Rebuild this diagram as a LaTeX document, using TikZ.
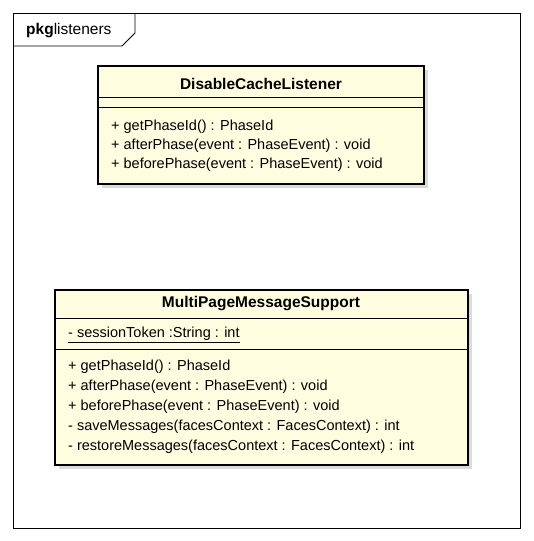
\documentclass[tikz,border=0pt]{standalone}
\usepackage{fontspec}
\setmainfont{Liberation Sans}
\begin{document}
\begin{tikzpicture}[x=1pt,y=-1pt,
  classbox/.style={draw=black,line width=2.2pt,fill=yellow!12,inner sep=0pt,anchor=north west},
  shadowbox/.style={fill=black!14,draw=none,inner sep=0pt,anchor=north west},
  sep/.style={line width=0.9pt},
  member/.style={anchor=west,inner sep=0pt,font=\fontsize{14.5}{16}\selectfont},
  title/.style={inner sep=0pt,font=\bfseries\fontsize{15.5}{17}\selectfont},
  frameline/.style={line width=0.9pt}]
\useasboundingbox (0,0) rectangle (534,541);
% package frame
\node[draw=black,line width=0.9pt,anchor=north west,minimum width=507pt,minimum height=515pt,inner sep=0pt] (pkg) at (13,13) {};
\coordinate (tabA) at (135,13);
\coordinate (tabB) at (135,33);
\coordinate (tabC) at (122,46);
\coordinate (tabD) at (13,46);
\draw[frameline] (tabA) -- (tabB) -- (tabC) -- (tabD);
\node[anchor=west,inner sep=0pt,font=\fontsize{15.5}{17}\selectfont] (pkgname) at (26,31) {\textbf{pkg}listeners};
% class 1 shadow and box
\node[shadowbox,minimum width=326pt,minimum height=118pt] (s1) at (102,70) {};
\node[classbox,minimum width=326pt,minimum height=118pt] (c1) at (97,65) {};
\node[title] (t1) at (261,84) {DisableCacheListener};
\coordinate (c1a) at (97,97);
\coordinate (c1b) at (423,97);
\coordinate (c1c) at (97,107);
\coordinate (c1d) at (423,107);
\draw[sep] (c1a) -- (c1b);
\draw[sep] (c1c) -- (c1d);
\node[member] (m11) at (111,127) {+ getPhaseId() : PhaseId};
\node[member] (m12) at (111,146) {+ afterPhase(event : PhaseEvent) : void};
\node[member] (m13) at (111,165) {+ beforePhase(event : PhaseEvent) : void};
% class 2 shadow and box
\node[shadowbox,minimum width=413pt,minimum height=175pt] (s2) at (59,294) {};
\node[classbox,minimum width=413pt,minimum height=175pt] (c2) at (54,289) {};
\node[title] (t2) at (261,304) {MultiPageMessageSupport};
\coordinate (c2a) at (54,318);
\coordinate (c2b) at (467,318);
\coordinate (c2c) at (54,349);
\coordinate (c2d) at (467,349);
\draw[sep] (c2a) -- (c2b);
\draw[sep] (c2c) -- (c2d);
\node[member] (a21) at (68,335) {\underline{- sessionToken :String : int}};
\node[member] (m21) at (68,367) {+ getPhaseId() : PhaseId};
\node[member] (m22) at (68,387) {+ afterPhase(event : PhaseEvent) : void};
\node[member] (m23) at (68,407) {+ beforePhase(event : PhaseEvent) : void};
\node[member] (m24) at (68,427) {- saveMessages(facesContext : FacesContext) : int};
\node[member] (m25) at (68,447) {- restoreMessages(facesContext : FacesContext) : int};
\end{tikzpicture}
\end{document}
